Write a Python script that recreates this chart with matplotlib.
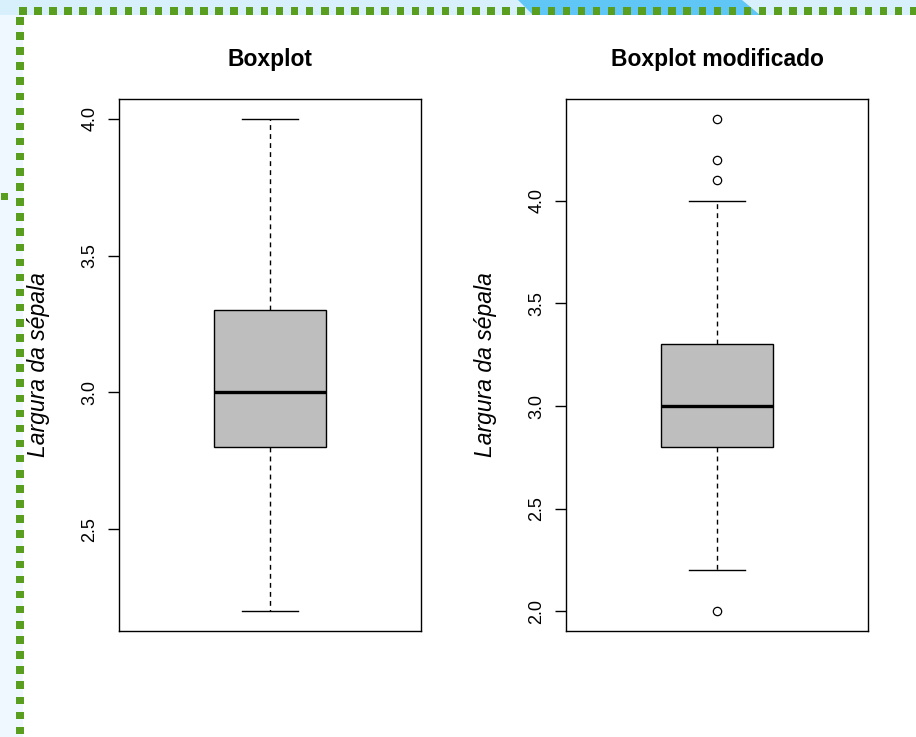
import numpy as np
import matplotlib.pyplot as plt
from matplotlib.patches import Rectangle, Polygon

# Sepal width summary (iris)
titles = ["Boxplot", "Boxplot modificado"]
ylabel = "Largura da sépala"
q1 = [2.8, 2.8]
median = [3.0, 3.0]
q3 = [3.3, 3.3]
whis_low = [2.2, 2.2]
whis_high = [4.0, 4.0]
fliers = [[], [4.4, 4.2, 4.1, 2.0]]
yticks = [[2.5, 3.0, 3.5, 4.0], [2.0, 2.5, 3.0, 3.5, 4.0]]

W, H = 916, 737
plt.rcParams['font.family'] = ['Liberation Sans', 'DejaVu Sans']
fig = plt.figure(figsize=(W / 100, H / 100), dpi=100, facecolor="white")

# page decoration (pixel coordinates overlay)
deco = fig.add_axes([0, 0, 1, 1], zorder=-1)
deco.set_xlim(0, W)
deco.set_ylim(H, 0)
deco.axis("off")
deco.add_patch(Rectangle((0, 0), 23, H, color="#eef8fe", lw=0))
deco.add_patch(Rectangle((0, 0), W, 15, color="#d8effc", lw=0))
deco.add_patch(Polygon([(518, 0), (742, 0), (760, 15), (533, 15)], closed=True,
                       color="#5fc6f5", lw=0))
green = "#5a9e1f"
for x in np.arange(19, W, 15.1):
    deco.add_patch(Rectangle((x, 7), 7.5, 8, color=green, lw=0))
for y in np.arange(17, H, 15.1):
    deco.add_patch(Rectangle((16, y), 7.5, 7.5, color=green, lw=0))
deco.add_patch(Rectangle((1, 193), 7, 7, color=green, lw=0))

lefts = [119, 566]
label_x = [39, 486]
ax_w, ax_top, ax_bot = 302, 99, 631

for i in range(2):
    ax = fig.add_axes([lefts[i] / W, 1 - ax_bot / H, ax_w / W, (ax_bot - ax_top) / H])
    stats = [dict(med=median[i], q1=q1[i], q3=q3[i],
                  whislo=whis_low[i], whishi=whis_high[i], fliers=fliers[i])]
    ax.bxp(stats, positions=[1], widths=0.4, patch_artist=True,
           boxprops=dict(facecolor="#bebebe", edgecolor="black", linewidth=1),
           medianprops=dict(color="black", linewidth=2.4),
           whiskerprops=dict(color="black", linewidth=1, linestyle=(0, (3.5, 3))),
           capprops=dict(color="black", linewidth=1),
           capwidths=0.2,
           flierprops=dict(marker="o", markersize=6, markerfacecolor="none",
                           markeredgecolor="black", markeredgewidth=0.9))
    allv = [whis_low[i], whis_high[i]] + fliers[i]
    lo, hi = min(allv), max(allv)
    ext = (hi - lo) * 0.04
    ax.set_ylim(lo - ext, hi + ext)
    ax.set_xlim(0.46, 1.54)
    ax.set_xticks([])
    ax.set_yticks(yticks[i])
    ax.set_yticklabels([f"{v:.1f}" for v in yticks[i]], rotation=90, va="center",
                       fontsize=13)
    ax.tick_params(axis="y", length=8, width=1, pad=7)
    for s in ax.spines.values():
        s.set_linewidth(1)
        s.set_color("black")
    ax.set_title(titles[i], fontsize=16.5, fontweight="bold", pad=24)
    ax.set_ylabel(ylabel, fontsize=16.5, style="italic")
    ax.yaxis.label.set_va("center")
    ax.yaxis.set_label_coords((label_x[i] - lefts[i]) / ax_w, 0.5)

fig.savefig("out.png", dpi=100, facecolor="white")
